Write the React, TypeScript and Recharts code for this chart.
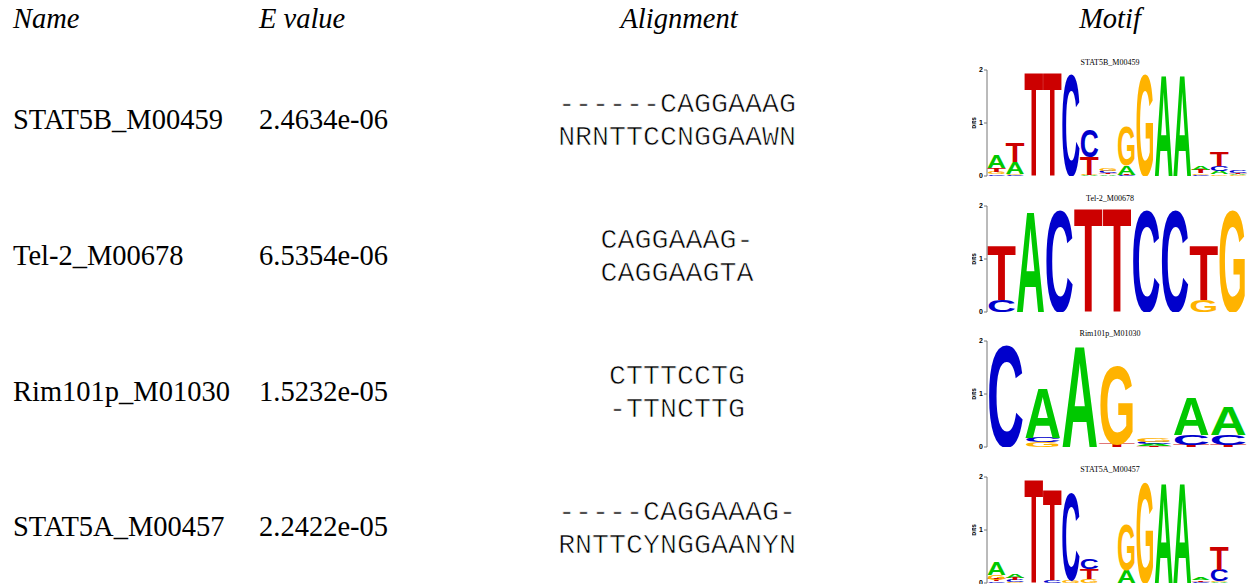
import React from 'react';
import { BarChart, Bar, XAxis, YAxis } from 'recharts';

// ---- table content ----
const headers = ['Name', 'E value', 'Alignment', 'Motif'];
const motifNames = ['STAT5B_M00459', 'Tel-2_M00678', 'Rim101p_M01030', 'STAT5A_M00457'];
const eValues = ['2.4634e-06', '6.5354e-06', '1.5232e-05', '2.2422e-05'];
const alignQuery = ['------CAGGAAAG', 'CAGGAAAG-', 'CTTTCCTG', '-----CAGGAAAG-'];
const alignTarget = ['NRNTTCCNGGAAWN', 'CAGGAAGTA', '-TTNCTTG', 'RNTTCYNGGAANYN'];

// ---- motif letter heights (bits) per position ----
const stat5bA = [0.25, 0.23, 0, 0, 0, 0.01, 0.03, 0.18, 0, 1.96, 1.96, 0.08, 0.06, 0.02];
const stat5bC = [0.03, 0.01, 0, 0, 1.96, 0.52, 0.04, 0.01, 0, 0, 0, 0.02, 0.1, 0.05];
const stat5bG = [0.05, 0.02, 0, 0, 0, 0.01, 0.04, 0.75, 1.96, 0, 0, 0.03, 0.03, 0.01];
const stat5bT = [0.07, 0.38, 2.0, 2.0, 0, 0.34, 0.03, 0.01, 0, 0, 0, 0.07, 0.28, 0.02];

const tel2A = [0, 1.96, 0, 0, 0, 0, 0, 0, 0];
const tel2C = [0.23, 0, 1.96, 0, 0, 1.96, 1.96, 0, 0];
const tel2G = [0, 0, 0, 0, 0, 0, 0, 0.23, 1.96];
const tel2T = [1.05, 0, 0, 2.0, 2.0, 0, 0, 1.05, 0];

const rim101A = [0, 0.94, 1.96, 0, 0.04, 0.73, 0.54];
const rim101C = [1.96, 0.09, 0, 0, 0.05, 0.19, 0.19];
const rim101G = [0, 0.085, 0, 1.51, 0.07, 0, 0];
const rim101T = [0, 0, 0, 0.06, 0.01, 0.04, 0.04];

const stat5aA = [0.25, 0.06, 0, 0, 0, 0, 0, 0.25, 0, 1.94, 1.94, 0.035, 0.01, 0];
const stat5aC = [0.03, 0.04, 0, 0.05, 1.69, 0.21, 0, 0, 0, 0, 0, 0.025, 0.22, 0];
const stat5aG = [0.09, 0.01, 0, 0, 0.05, 0.08, 0, 0.88, 1.94, 0, 0, 0, 0.02, 0];
const stat5aT = [0.035, 0.05, 2.0, 1.75, 0, 0.19, 0, 0, 0, 0, 0, 0.03, 0.44, 0];

const letterColors: Record<string, string> = {
  A: '#00c800',
  C: '#0000cc',
  G: '#ffb300',
  T: '#cc0000',
};

function buildStacks(a: number[], c: number[], g: number[], t: number[]) {
  return a.map((_, i) => {
    const items = [
      { l: 'A', v: a[i] },
      { l: 'C', v: c[i] },
      { l: 'G', v: g[i] },
      { l: 'T', v: t[i] },
    ].sort((p, q) => p.v - q.v);
    const row: any = { pos: i + 1 };
    items.forEach((it, k) => {
      row['s' + k] = it.v;
      row['l' + k] = it.l;
    });
    return row;
  });
}

const motifs = [
  buildStacks(stat5bA, stat5bC, stat5bG, stat5bT),
  buildStacks(tel2A, tel2C, tel2G, tel2T),
  buildStacks(rim101A, rim101C, rim101G, rim101T),
  buildStacks(stat5aA, stat5aC, stat5aG, stat5aT),
];

const plotTops = [70, 205.5, 341, 476.5];
const CAP = 71.6; // cap height of Liberation Sans Bold, per 100 units

const LetterShape = (layer: number) => (props: any) => {
  const { x, y, width, height, payload } = props;
  if (!height || height <= 0.05 || !payload) return <g />;
  const letter = payload['l' + layer];
  return (
    <text
      x={0}
      y={0}
      fontSize={100}
      fontFamily="'Liberation Sans', Arial, sans-serif"
      fontWeight="bold"
      fill={letterColors[letter]}
      textLength={100}
      lengthAdjust="spacingAndGlyphs"
      transform={`translate(${x},${y + height}) scale(${width / 100},${height / CAP})`}
    >
      {letter}
    </text>
  );
};

const BitsLabel = (props: any) => {
  const vb = props.viewBox || {};
  const cx = (vb.x ?? 0) + 4;
  const cy = (vb.y ?? 0) + (vb.height ?? 0) / 2;
  return (
    <text
      x={cx}
      y={cy}
      transform={`rotate(-90, ${cx}, ${cy})`}
      textAnchor="middle"
      fontSize={6.5}
      fontWeight="bold"
      fontFamily="'Liberation Sans', Arial, sans-serif"
      fill="#000"
    >
      bits
    </text>
  );
};

function Logo({ data, top }: { data: any[]; top: number }) {
  return (
    <div style={{ position: 'absolute', left: 972, top: top - 20 }}>
      <BarChart
        width={285}
        height={131}
        data={data}
        margin={{ top: 20, right: 10, bottom: 5, left: 0 }}
        barCategoryGap={0}
        barGap={0}
      >
        <XAxis dataKey="pos" hide />
        <YAxis
          domain={[0, 2]}
          ticks={[0, 1, 2]}
          width={15}
          interval={0}
          allowDataOverflow
          axisLine={{ stroke: '#777', strokeWidth: 1 }}
          tickLine={{ stroke: '#777', strokeWidth: 1 }}
          tickSize={3}
          tickMargin={1}
          tick={{ fontSize: 7, fontWeight: 'bold', fill: '#000', fontFamily: "'Liberation Sans', Arial, sans-serif" }}
          label={{ content: BitsLabel }}
        />
        {[0, 1, 2, 3].map((k) => (
          <Bar
            key={k}
            dataKey={'s' + k}
            stackId="logo"
            isAnimationActive={false}
            shape={LetterShape(k)}
          />
        ))}
      </BarChart>
    </div>
  );
}

const rowNameBaselines = [128.5, 264.5, 400.5, 536];
const alignLine1 = [112, 248, 384, 520];
const alignLine2 = [145, 281, 417, 553];

export default function App() {
  const serif = "'Liberation Serif', 'Times New Roman', serif";
  const mono = "'Liberation Mono', 'Courier New', monospace";
  return (
    <div style={{ position: 'absolute', left: 0, top: 0, width: 1257, height: 584, background: '#fff', overflow: 'hidden' }}>
      <svg width={1257} height={584} style={{ position: 'absolute', left: 0, top: 0 }}>
        <g fontFamily={serif} fontSize={28.5} fontStyle="italic" fill="#000">
          <text x={13} y={28}>{headers[0]}</text>
          <text x={259} y={28}>{headers[1]}</text>
          <text x={679} y={28} textAnchor="middle">{headers[2]}</text>
          <text x={1110} y={28} textAnchor="middle">{headers[3]}</text>
        </g>
        {motifNames.map((n, i) => (
          <g key={n} fontFamily={serif} fontSize={28.5} fill="#000">
            <text x={13} y={rowNameBaselines[i]}>{n}</text>
            <text x={259} y={rowNameBaselines[i]}>{eValues[i]}</text>
          </g>
        ))}
        {alignQuery.map((q, i) => (
          <g key={i} fontFamily={mono} fontSize={28.3} fill="#000" stroke="#ffffff" strokeWidth={0.65}>
            <text x={677} y={alignLine1[i]} textAnchor="middle" xmlSpace="preserve">{q}</text>
            <text x={677} y={alignLine2[i]} textAnchor="middle" xmlSpace="preserve">{alignTarget[i]}</text>
          </g>
        ))}
        {motifNames.map((n, i) => (
          <text key={'t' + n} x={1110} y={plotTops[i] - 5} textAnchor="middle" fontFamily={serif} fontSize={8} fill="#000">
            {n}
          </text>
        ))}
      </svg>
      {motifs.map((d, i) => (
        <Logo key={i} data={d} top={plotTops[i]} />
      ))}
    </div>
  );
}
